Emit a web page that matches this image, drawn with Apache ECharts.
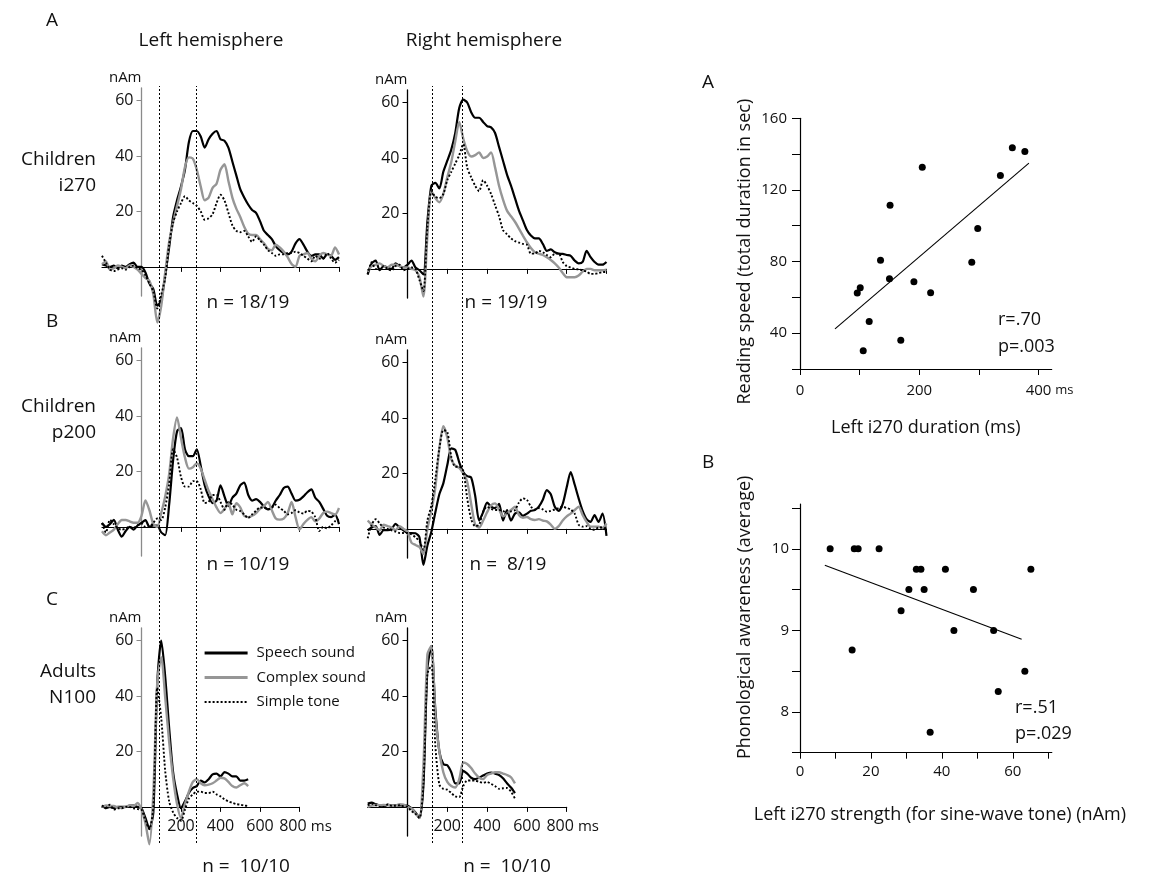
<!DOCTYPE html>
<html><head><meta charset="utf-8">
<script src="https://cdn.jsdelivr.net/npm/echarts@6/dist/echarts.min.js"></script>
<style>html,body{margin:0;padding:0;background:#fff}#c{width:1150px;height:877px}</style>
</head><body><div id="c"></div><script>
// ---------- data ----------
const TIME = [-200,-180,-160,-140,-120,-100,-80,-60,-40,-20,0,20,40,60,80,100,120,140,160,180,200,220,240,260,280,300,320,340,360,380,400,420,440,460,480,500,520,540,560,580,600,620,640,660,680,700,720,740,760,780,800,820,840,860,880,900,920,940,960,980,1000];
const TIME_SHORT = [-200,-180,-160,-140,-120,-100,-80,-60,-40,-20,0,20,40,60,80,100,120,140,160,180,200,220,240,260,280,300,320,340,360,380,400,420,440,460,480,500,520,540];
const SERIES_NAMES = ['Speech sound','Complex sound','Simple tone'];

// Children i270, left hemisphere
const TL_S = [1,0.5,0,0.5,-0.5,0.5,0,1,1.5,0, 0,-2,-6,-8,-14,-12,-3,7,18,24, 29,35,45,49,49,47,43,46,48,49, 46,45.5,43,38,33,28,25,22.5,20.5,19.5, 16.5,13,11.5,10,7.5,6,5,4.5,5.5,8.5, 10,8,5.5,4,4.5,4.5,3,4.5,4,2.5, 3.5];
const TL_C = [1,2,-1,-0.5,0.5,0,-0.5,0.5,0,-1, -2.5,-4,-5,-10,-20,-14,-2,9,16,22, 28,36,39.5,39,35,29,24,25,28.5,30, 35,37,31,25,21,18,14.5,12,11.5,11.5, 10,8.5,6.5,6,8,7,5.5,3.5,1,0, 4,4.5,5,3,2,4,5,4.5,4,7, 4.5];
const TL_D = [4,1.5,-1,-1.5,-1,-0.5,-1,0,0.5,-0.5, -1,-3,-6,-9,-15,-10,-4,8,16,20, 23,25.5,24,23,22,20,17,17.5,19,23, 26,24,19.5,15,13,12.5,13,11,9,11, 9.5,8,6,5,4,4.5,4.5,5,5,5.5, 5,4,3,2,4,3,3,5,3,1.5, 2.5];
// Children i270, right hemisphere
const TR_S = [-2,2,3,-0.5,1,0.5,0,2,1,0.5, 1.5,3,0.5,-0.5,-2,17,30,31,29,35, 39,43,49,58,61,60,56.5,54.5,54.5,53, 51.5,51,49,44,39,34,30,25.5,21,17.5, 14,12,11,11,9,6.5,7,6,5.5,5.4, 5,4.7,3,2,2.5,6.5,4.2,2.5,1.5,1.5, 2.5];
const TR_C = [-1,1,1.5,2,1,0.5,1.5,1.5,1,0.5, 0.5,0,-0.5,-3,-10,12,28,25.5,24,27, 33,38.5,46,53,47,42.5,40.5,41,42,40, 40.5,42,36.6,30,25,21,19,17,14.5,12, 9.6,7.5,6,5.5,5,4.2,3.2,2,0.5,-1.5, -3,-3,-3,-2.4,-1,0,0,-0.5,-0.5,-0.5, -0.3];
const TR_D = [-2,2.4,0,0,1,0,-0.6,1,1.5,-0.5, 0,0.5,0,-4,-8,15,28,26,25.5,27, 32,35,38,41,45,36.5,33,30,28,32, 30,27,23,19,14,12.5,11,10,9.5,9, 8.7,5.5,5.5,6.5,6,5,4.2,5.5,5.5,2.5, 1,0.5,0,-0.2,-0.5,-1,-1.8,-1.8,-1.5,-1.2, -1];
// Children p200, left hemisphere
const ML_S = [1.4,0,1,2.5,-1,-3.5,-1.5,0,-1,0.5, 1.5,2.4,0,0.5,0.5,-2,-3,8,24,34.5, 35.6,28,25.5,25.5,28,22,15,11,8.6,9.5, 15,11,7.5,10.5,12,15,16,11.6,9.5,10, 9,7.3,6.3,7,9.5,11.5,14,14.5,12,9.5, 9.8,11,12.5,13.5,10.5,9,6.5,4,3.5,4.4, 1];
const ML_C = [-1.6,-3,-2,-1,1,2.5,2.5,2,1.5,1.5, 4,9.5,6,1,0,5,11,19,32,39.5, 32,25,21,21.5,23,21,17,13,10,7, 5,6.5,8.5,4.5,8.5,7,4,3.5,4,5, 6.5,7.5,9,6,3,2.6,3,5,9,3.5, -1,1,2.5,3.5,2,3,5,5.5,5,4.4, 6.8];
const ML_D = [1.4,-2,2.5,1,-0.5,-1,-0.5,0,-0.3,0.5, 1.2,0,0,1.5,3,2.5,7,15.5,28,25, 18,14.5,14.5,16.5,16.5,13.5,8.6,9,11.5,11.5, 9,6.2,9,8,6.2,5.7,4.5,3.2,4.5,5.8, 7,7,6.3,7,8,6.8,5.8,4.5,5,6, 5.2,4.8,5.8,5.5,3.5,-1.5,0,-0.5,0.5,2, 2.6];
// Children p200, right hemisphere
const MR_S = [-0.5,0.5,1,-2.2,-0.5,-0.5,0,1.8,0.5,-0.5, -1.5,-1.5,-1.6,-3,-13,-6,-1,6,12.5,16.4, 23,29,28.5,24,20.5,19,18.5,12,3,6, 9.5,8,7.5,9,3,6.8,3,5.5,6,4.7, 5.5,6.5,6.8,8,10.5,14,12.5,8,6.5,9, 15,20.5,16,11,6.5,3.5,2.5,5,2.5,5.5, -2.5];
const MR_C = [3,1.5,0.5,-0.5,1.5,1,0.5,-0.5,1,0, -1,-5,-5.8,-6.5,-9,0,6.5,15,29,37, 33,25,22.8,22,20,17,9,1.5,0.5,3, 6,8.5,9.2,7,4.5,5.5,6.8,8,5,4, 4.3,3.5,3.2,3.5,3,2.7,1.5,0,1,3, 4.5,5.5,6.8,8,5,2.5,0.8,0.8,0.8,0.3, 2];
const MR_D = [-3.4,1.5,3.5,2,0.5,0,-0.5,-1,-1.5,-1.5, -1.5,-2,-3,-4.5,-7.5,3,8.5,18,29,35.6, 35,26,22.4,22.4,21,11,3.5,1,1.5,6.3, 8,7.2,6.8,6.8,6.5,5.6,6.3,6.8,9.5,11, 10.5,8,7,7.5,7,6.2,6.5,7,7.5,8, 7.5,7,5.5,1.5,0.8,1,0,-0.3,0.5,0.5, -0.3];
// Adults N100, left hemisphere
const BL_S = [0.5,-0.5,0,-0.5,0,0,0,0.5,0.5,0, -0.5,-4,-8,-2,45,60,47,28.5,12.5,4.5, -0.5,2,5,6.8,7.5,9.5,8.8,10,11.7,12, 11,12.5,12,11,11,9.5,9.5,10];
const BL_C = [0,0.5,0.3,0.3,-0.2,-0.4,0,0.5,0.3,1.4, -1,-6,-13.5,5,45,54,39.5,23.5,10.5,1, -4,1,5.5,9,10,8.5,7.8,8,8.5,9.5, 10.5,10.3,9,7.5,7,7.8,8.5,7.5];
const BL_D = [0.5,-0.3,0.8,-1,-0.5,-0.5,0,0,-0.5,-0.8, -1,-5,-8,0,43,32,13,2,-2,-4, -5,-1,3,4.5,5.5,5.5,5,5,5.5,4.5, 3.8,2.7,2,1.5,1,0.8,0.5,0.3];
// Adults N100, right hemisphere
const BR_S = [1.2,1.5,1,0.5,0,0.8,0.5,0.6,0.5,0.5, 0.5,-0.5,-2,-4,8,50,58,35,20,15.4, 15,12.5,8.5,8.5,13,12,10.5,10,10.5,11.3, 12,12.4,12,11.5,10.3,8.5,7,5];
const BR_C = [0,0.5,0.7,0.6,0.7,0.6,0.5,0.5,1,0.8, 0,-0.6,-2.4,-4,15,55,58,33,20,12.5, 9,7.5,7,10,16,15.5,14,12,10.5,10, 11.5,12,12.5,12.5,12,11.5,10.7,8.5];
const BR_D = [0.6,1.2,0.6,0,0,0.8,0.4,0.4,0.6,0.2, 0,-1.5,-2.5,-4,8,48,51,22,8,6.5, 6.2,5,3.8,3.5,7.5,9.5,9.5,9.5,9,8.7, 9,8.3,7.5,6.5,6.7,6.8,5.5,3];

const MARKERS_LEFT = [92, 279];
const MARKERS_RIGHT = [122, 273];

const Y_TICKS = [20, 40, 60];
const X_TICKS_LONG = [200, 400, 600, 800, 1000];
const X_TICKS_SHORT = [200, 400, 600, 800];

// Scatter A: left i270 duration (ms) vs reading speed (s)
const DUR_X = [96,101,116,106,135,151,150,169,191,205,219,288,298,336,356,377];
const READ_Y = [62.4,65.4,46.5,30.2,80.7,111.5,70.4,36.1,68.7,132.6,62.6,79.6,98.5,128.1,143.5,141.5];
const FIT_A_X = [58.7, 383.8];
const FIT_A_Y = [42.4, 135];
const A_X_TICKS = [0,100,200,300,400];
const A_X_LABELS = [0,200,400];
const A_Y_TICKS = [20,40,60,80,100,120,140,160];
const A_Y_LABELS = [40,80,120,160];

// Scatter B: left i270 strength (nAm) vs phonological awareness
const STR_X = [8.5,15.3,16.4,22.3,14.7,28.5,30.7,32.8,34.1,35.0,36.7,41.0,43.4,48.9,54.6,55.9,63.4,65.1];
const PHON_Y = [10,10,10,10,8.76,9.24,9.5,9.75,9.75,9.5,7.75,9.75,9.0,9.5,9.0,8.25,8.5,9.75];
const FIT_B_X = [7.0, 62.5];
const FIT_B_Y = [9.80, 8.89];
const B_X_TICKS = [0,10,20,30,40,50,60,70];
const B_X_LABELS = [0,20,40,60];
const B_Y_TICKS = [7.5,8,8.5,9,9.5,10,10.5];
const B_Y_LABELS = [8,9,10];

// ---------- chart ----------
const FONT = 'Open Sans';
const GREY_AXIS = '#8a8a8a';
const INK = '#111';
const pair = (xs, ys) => xs.map((x, i) => [x, ys[i]]);

const Y_MIN = -10.5, Y_MAX = 64.5, PANEL_H = 208;
const panels = [
  {left:102, width:237, top:88, xmax:1000, axis:GREY_AXIS, labels:false, time:TIME, d:[TL_S,TL_C,TL_D]},
  {left:102, width:237, top:348, xmax:1000, axis:GREY_AXIS, labels:false, time:TIME, d:[ML_S,ML_C,ML_D]},
  {left:102, width:197.5, top:628, xmax:800, axis:GREY_AXIS, labels:true, time:TIME_SHORT, d:[BL_S,BL_C,BL_D]},
  {left:367.7, width:238.8, top:90, xmax:1000, axis:'#000', labels:false, time:TIME, d:[TR_S,TR_C,TR_D]},
  {left:367.7, width:238.8, top:350, xmax:1000, axis:'#000', labels:false, time:TIME, d:[MR_S,MR_C,MR_D]},
  {left:367.7, width:199, top:628, xmax:800, axis:'#000', labels:true, time:TIME_SHORT, d:[BR_S,BR_C,BR_D]}
];

const grid = [], xAxis = [], yAxis = [], series = [];
const lineStyles = [
  {color:'#000', width:2.2, type:'solid'},
  {color:'#969696', width:2.4, type:'solid'},
  {color:'#000', width:1.9, type:[2,2]}
];
const drawOrder = [1, 0, 2];

panels.forEach((p, i) => {
  const pxPerMs = p.width / (p.xmax + 200);
  const yZeroShift = (0 - Y_MIN) * PANEL_H / (Y_MAX - Y_MIN);
  grid.push({left:p.left, top:p.top, width:p.width, height:PANEL_H});
  xAxis.push({
    gridIndex:i, type:'value', min:-200, max:p.xmax, position:'bottom', offset:-yZeroShift,
    axisLine:{show:true, onZero:false, lineStyle:{color:'#000', width:1.2}},
    axisTick:{show:true, customValues: p.xmax === 1000 ? X_TICKS_LONG : X_TICKS_SHORT, length:5, lineStyle:{color:'#000', width:1}},
    axisLabel:{show:p.labels, customValues:X_TICKS_SHORT, margin:12, fontSize:16, color:INK, fontFamily:FONT,
      formatter: v => v === 800 ? '{a|800} {m|ms}' : String(v),
      rich:{a:{fontSize:16, fontFamily:FONT, color:INK, padding:[0,0,0,12]}, m:{fontSize:15, fontFamily:FONT, color:INK}}},
    splitLine:{show:false}
  });
  yAxis.push({
    gridIndex:i, type:'value', min:Y_MIN, max:Y_MAX, position:'left', offset:-200 * pxPerMs,
    name:'nAm', nameLocation:'end', nameGap:3,
    nameTextStyle:{align:'right', verticalAlign:'bottom', fontSize:15, color:INK, fontFamily:FONT},
    axisLine:{show:true, onZero:false, lineStyle:{color:p.axis, width:1.3}},
    axisTick:{show:true, customValues:Y_TICKS, length:5, lineStyle:{color:p.axis}},
    axisLabel:{customValues:Y_TICKS, margin:8, fontSize:16, color:INK, fontFamily:FONT},
    splitLine:{show:false}
  });
  drawOrder.forEach(k => {
    series.push({
      type:'line', name:SERIES_NAMES[k], xAxisIndex:i, yAxisIndex:i,
      data: pair(p.time, p.d[k]), symbol:'none', showSymbol:false, smooth:0.25,
      clip:false, lineStyle:lineStyles[k], itemStyle:{color:lineStyles[k].color}, z: 3 + k,
      silent:true
    });
  });
});

// dotted latency markers spanning each column
[{left:102, width:237, m:MARKERS_LEFT}, {left:367.7, width:238.8, m:MARKERS_RIGHT}].forEach((c) => {
  const gi = grid.length;
  grid.push({left:c.left, width:c.width, top:86, height:757});
  xAxis.push({gridIndex:gi, type:'value', min:-200, max:1000, show:false});
  yAxis.push({gridIndex:gi, type:'value', min:0, max:1, show:false});
  series.push({
    type:'line', name:'marker', xAxisIndex:gi, yAxisIndex:gi, data:[[0,0.5]], symbol:'none',
    lineStyle:{opacity:0}, silent:true, z:2,
    markLine:{silent:true, symbol:['none','none'], label:{show:false}, animation:false,
      lineStyle:{color:'#000', width:1, type:[2,2]}, data:c.m.map(v => ({xAxis:v}))}
  });
});

// scatter A
const gA = grid.length;
grid.push({left:800, top:118.3, width:251.7, height:250.7});
xAxis.push({gridIndex:gA, type:'value', min:0, max:422,
  name:'Left i270 duration (ms)', nameLocation:'middle', nameGap:50,
  nameTextStyle:{fontSize:18, color:INK, fontFamily:FONT},
  axisLine:{onZero:false, lineStyle:{color:'#000', width:1.2}},
  axisTick:{customValues:A_X_TICKS, length:6, lineStyle:{color:'#000'}},
  axisLabel:{customValues:A_X_LABELS, margin:14, fontSize:15, color:INK, fontFamily:FONT,
    formatter: v => v === 400 ? '{a|400} {m|ms}' : String(v),
    rich:{a:{fontSize:15, fontFamily:FONT, color:INK, padding:[0,0,0,22]}, m:{fontSize:13, fontFamily:FONT, color:INK}}},
  splitLine:{show:false}});
yAxis.push({gridIndex:gA, type:'value', min:20, max:160,
  name:'Reading speed (total duration in sec)', nameLocation:'middle', nameGap:46, nameRotate:90,
  nameTextStyle:{fontSize:18, color:INK, fontFamily:FONT, padding:[0,16,0,0]},
  axisLine:{onZero:false, lineStyle:{color:'#000', width:1.2}},
  axisTick:{customValues:A_Y_TICKS, length:8, lineStyle:{color:'#000'}},
  axisLabel:{customValues:A_Y_LABELS, margin:13, fontSize:15, color:INK, fontFamily:FONT},
  splitLine:{show:false}});
series.push({type:'scatter', name:'Reading', xAxisIndex:gA, yAxisIndex:gA, data:pair(DUR_X, READ_Y),
  symbol:'circle', symbolSize:7, itemStyle:{color:'#000', opacity:1}, silent:true});
series.push({type:'line', name:'fitA', xAxisIndex:gA, yAxisIndex:gA, data:pair(FIT_A_X, FIT_A_Y),
  symbol:'none', lineStyle:{color:'#000', width:1.1}, silent:true});

// scatter B
const gB = grid.length;
grid.push({left:800, top:504, width:251.8, height:248.7});
xAxis.push({gridIndex:gB, type:'value', min:0, max:71,
  name:'Left i270 strength (for sine-wave tone) (nAm)', nameLocation:'middle', nameGap:53,
  nameTextStyle:{fontSize:18, color:INK, fontFamily:FONT, padding:[0,0,0,28]},
  axisLine:{onZero:false, lineStyle:{color:'#000', width:1.2}},
  axisTick:{customValues:B_X_TICKS, length:6, lineStyle:{color:'#000'}},
  axisLabel:{customValues:B_X_LABELS, margin:12, fontSize:15, color:INK, fontFamily:FONT},
  splitLine:{show:false}});
yAxis.push({gridIndex:gB, type:'value', min:7.5, max:10.55,
  name:'Phonological awareness (average)', nameLocation:'middle', nameGap:46, nameRotate:90,
  nameTextStyle:{fontSize:18, color:INK, fontFamily:FONT, padding:[0,0,0,22]},
  axisLine:{onZero:false, lineStyle:{color:'#000', width:1.2}},
  axisTick:{customValues:B_Y_TICKS, length:8, lineStyle:{color:'#000'}},
  axisLabel:{customValues:B_Y_LABELS, margin:11, fontSize:15, color:INK, fontFamily:FONT},
  splitLine:{show:false}});
series.push({type:'scatter', name:'Phon', xAxisIndex:gB, yAxisIndex:gB, data:pair(STR_X, PHON_Y),
  symbol:'circle', symbolSize:7, itemStyle:{color:'#000', opacity:1}, silent:true});
series.push({type:'line', name:'fitB', xAxisIndex:gB, yAxisIndex:gB, data:pair(FIT_B_X, FIT_B_Y),
  symbol:'none', lineStyle:{color:'#000', width:1.1}, silent:true});

const txt = (text, x, y, size, align) => ({type:'text', x, y, silent:true,
  style:{text, fill:INK, fontSize:size, fontFamily:FONT, align:align || 'left', verticalAlign:'middle'}});

const graphic = [
  txt('A', 46, 21, 19), txt('Left hemisphere', 211, 41, 19, 'center'), txt('Right hemisphere', 484, 41, 19, 'center'),
  txt('Children', 96, 160, 19, 'right'), txt('i270', 96, 186, 19, 'right'),
  txt('B', 46, 322, 19),
  txt('Children', 96, 407, 19, 'right'), txt('p200', 96, 433, 19, 'right'),
  txt('C', 46, 600, 19),
  txt('Adults', 96, 672, 19, 'right'), txt('N100', 96, 698, 19, 'right'),
  txt('n = 18/19', 248, 303, 19, 'center'), txt('n = 19/19', 506, 303, 19, 'center'),
  txt('n = 10/19', 248, 565, 19, 'center'), txt('n =  8/19', 508, 565, 19, 'center'),
  txt('n =  10/10', 246, 867, 19, 'center'), txt('n =  10/10', 507, 867, 19, 'center'),
  txt('A', 702, 83, 19), txt('B', 702, 463, 19),
  txt('r=.70', 998, 320, 18), txt('p=.003', 998, 347, 18),
  txt('r=.51', 1015, 708, 18), txt('p=.029', 1015, 734, 18)
];

const chart = echarts.init(document.getElementById('c'), null, {renderer:'canvas'});
chart.setOption({
  animation:false,
  backgroundColor:'#fff',
  textStyle:{fontFamily:FONT},
  grid, xAxis, yAxis, series, graphic,
  legend:{
    orient:'vertical', left:198, top:639, itemWidth:43, itemHeight:12, itemGap:6.5,
    selectedMode:false,
    itemStyle:{opacity:0},
    data:[
      {name:SERIES_NAMES[0], lineStyle:{width:3}},
      {name:SERIES_NAMES[1], lineStyle:{width:3.2}},
      {name:SERIES_NAMES[2], lineStyle:{width:1.8}}
    ],
    textStyle:{fontSize:15, color:INK, fontFamily:FONT, lineHeight:18, padding:[0,0,0,4]}
  }
});
</script></body></html>
